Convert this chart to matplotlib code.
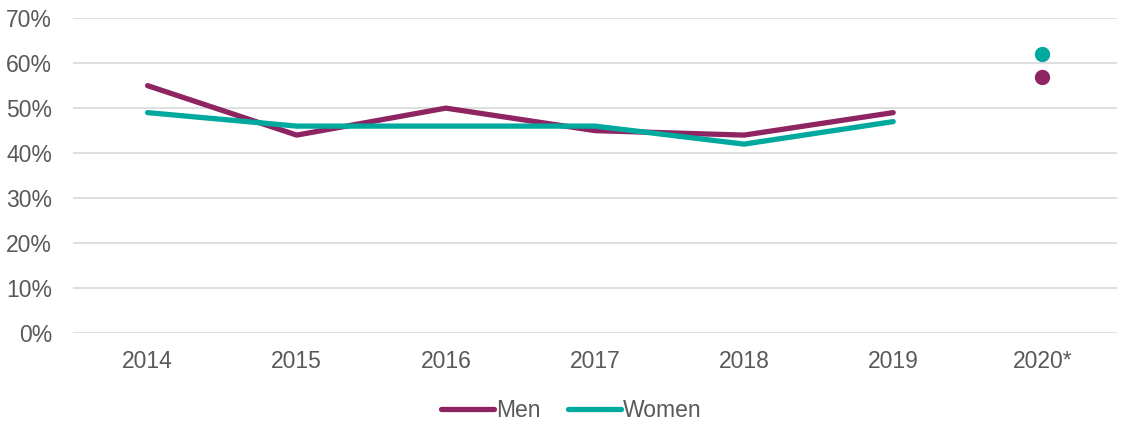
import matplotlib.pyplot as plt

plt.rcParams['font.family'] = ['Liberation Sans', 'DejaVu Sans']

years = ['2014', '2015', '2016', '2017', '2018', '2019', '2020*']
men = [55, 44, 50, 45, 44, 49]
women = [49, 46, 46, 46, 42, 47]
men_2020 = 57
women_2020 = 62

men_color = '#8E2461'
women_color = '#00A99D'
text_color = '#595959'

fig = plt.figure(figsize=(11.27, 4.33), dpi=100)
ax = fig.add_axes([0.0648, 0.231, 0.9262, 0.727])

x = list(range(len(men)))
ax.plot(x, men, color=men_color, lw=3.8, solid_capstyle='round', label='Men', zorder=3)
ax.plot(x, women, color=women_color, lw=3.8, solid_capstyle='round', label='Women', zorder=3)
ax.plot([6], [men_2020], 'o', color=men_color, ms=10, zorder=3)
ax.plot([6], [women_2020], 'o', color=women_color, ms=10, zorder=3)

ax.set_xlim(-0.5, 6.5)
ax.set_ylim(0, 70)
ax.set_yticks(range(0, 71, 10))
ax.set_yticklabels([f'{v}%' for v in range(0, 71, 10)])
ax.set_xticks(range(len(years)))
ax.set_xticklabels(years)
ax.grid(axis='y', color='#D9D9D9', lw=1.2)
ax.set_axisbelow(True)
for s in ax.spines.values():
    s.set_visible(False)
ax.tick_params(length=0, labelsize=16.5, colors=text_color)
ax.tick_params(axis='x', pad=12)
ax.tick_params(axis='y', pad=15)

leg = fig.legend(loc='center', bbox_to_anchor=(0.507, 0.053), ncol=2, frameon=False,
                 fontsize=16.5, handlelength=2.3, handletextpad=0.1, columnspacing=1.2)
for t in leg.get_texts():
    t.set_color(text_color)

fig.savefig('out.png', dpi=100)
